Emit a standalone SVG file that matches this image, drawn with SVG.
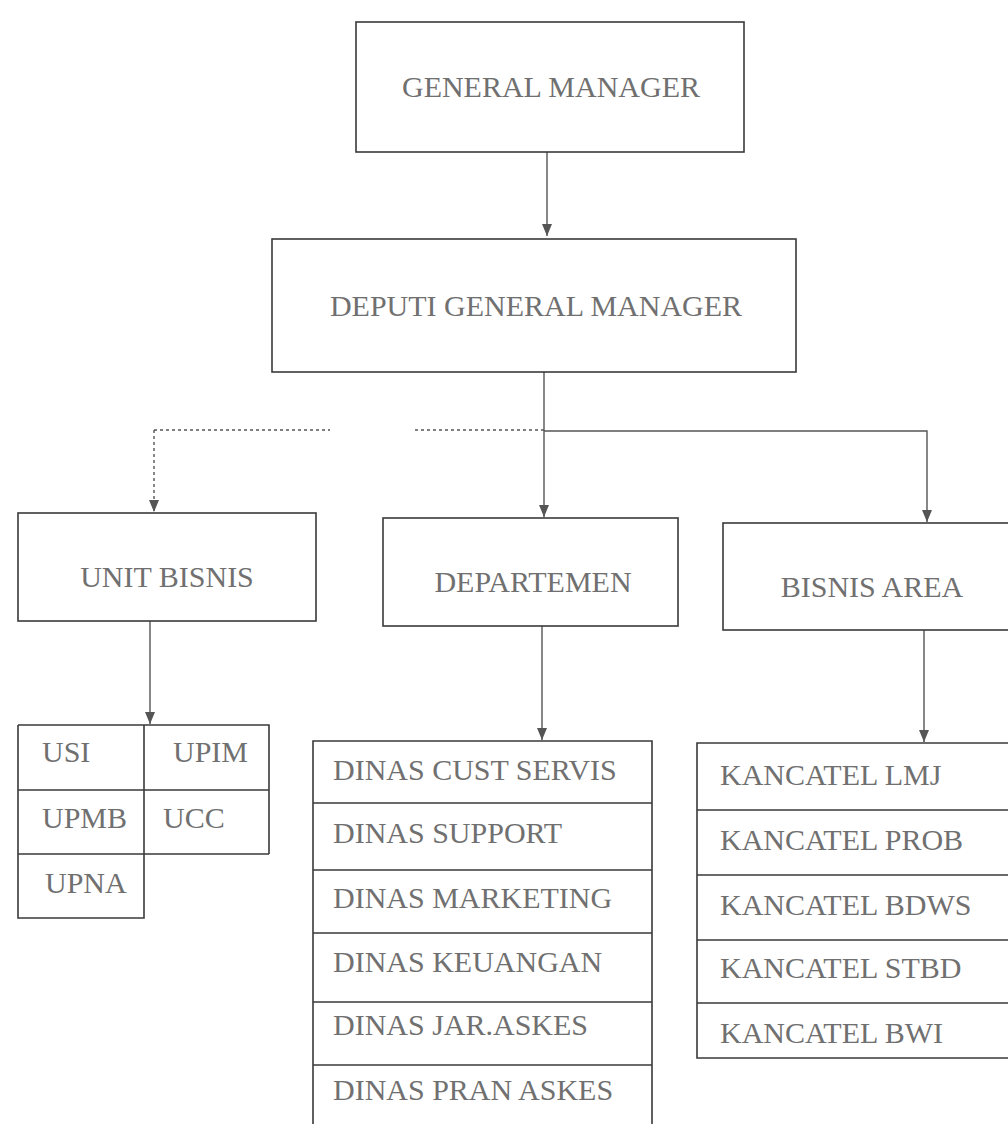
<svg xmlns="http://www.w3.org/2000/svg" width="1008" height="1124" viewBox="0 0 1008 1124">
<style>
.box{fill:#fff;stroke:#3a3a3a;stroke-width:1.6}
.ln{fill:none;stroke:#3a3a3a;stroke-width:1.6}
.cn{fill:none;stroke:#555;stroke-width:1.4}
.dash{stroke-dasharray:3 3}
.t{font-family:"Liberation Serif","Times New Roman",serif;font-size:30px;fill:#707070}
.c{text-anchor:middle}
</style>
<defs>
<marker id="ah" markerWidth="12" markerHeight="10" refX="12" refY="5" orient="auto" markerUnits="userSpaceOnUse" viewBox="0 0 12 10">
<path d="M0,0 L12,5 L0,10 Z" fill="#555"/>
</marker>
</defs>
<rect width="1008" height="1124" fill="#fff"/>

<g id="connectors">
<path class="cn" d="M547,152 V236" marker-end="url(#ah)"/>
<path class="cn" d="M544,372 V517" marker-end="url(#ah)"/>
<path class="cn dash" d="M154,430 H330"/>
<path class="cn dash" d="M415,430 H544"/>
<path class="cn" d="M544,431 H927 V522" marker-end="url(#ah)"/>
<path class="cn dash" d="M154,430 V512" marker-end="url(#ah)"/>
<path class="cn" d="M150,621 V724" marker-end="url(#ah)"/>
<path class="cn" d="M542,626 V740" marker-end="url(#ah)"/>
<path class="cn" d="M924,630 V742" marker-end="url(#ah)"/>
</g>

<g id="gm">
<rect class="box" x="356" y="22" width="388" height="130"/>
<text class="t c" x="551" y="97">GENERAL MANAGER</text>
</g>
<g id="dgm">
<rect class="box" x="272" y="239" width="524" height="133"/>
<text class="t c" x="536" y="316">DEPUTI GENERAL MANAGER</text>
</g>
<g id="unit-bisnis">
<rect class="box" x="18" y="513" width="298" height="108"/>
<text class="t c" x="167" y="587">UNIT BISNIS</text>
</g>
<g id="departemen">
<rect class="box" x="383" y="518" width="295" height="108"/>
<text class="t c" x="533" y="592">DEPARTEMEN</text>
</g>
<g id="bisnis-area">
<rect class="box" x="723" y="523" width="300" height="107"/>
<text class="t c" x="872" y="597">BISNIS AREA</text>
</g>

<g id="unit-list">
<path class="ln" d="M18,725 H269 V854 M18,725 V918 H144 V725 M18,790 H269 M18,854 H269"/>
<text class="t" x="42" y="762">USI</text>
<text class="t" x="173" y="762">UPIM</text>
<text class="t" x="42" y="828">UPMB</text>
<text class="t" x="163" y="828">UCC</text>
<text class="t" x="45" y="893">UPNA</text>
</g>

<g id="dinas-list">
<path class="ln" d="M313,1130 V741 H652 V1130 M313,803 H652 M313,870 H652 M313,933 H652 M313,1002 H652 M313,1065 H652"/>
<text class="t" x="333" y="780">DINAS CUST SERVIS</text>
<text class="t" x="333" y="843">DINAS SUPPORT</text>
<text class="t" x="333" y="908">DINAS MARKETING</text>
<text class="t" x="333" y="972">DINAS KEUANGAN</text>
<text class="t" x="333" y="1035">DINAS JAR.ASKES</text>
<text class="t" x="333" y="1100">DINAS PRAN ASKES</text>
</g>

<g id="kancatel-list">
<path class="ln" d="M1015,743 H697 V1058 H1015 M697,810 H1015 M697,875 H1015 M697,940 H1015 M697,1003 H1015"/>
<text class="t" x="720" y="785">KANCATEL LMJ</text>
<text class="t" x="720" y="850">KANCATEL PROB</text>
<text class="t" x="720" y="915">KANCATEL BDWS</text>
<text class="t" x="720" y="978">KANCATEL STBD</text>
<text class="t" x="720" y="1043">KANCATEL BWI</text>
</g>
</svg>
